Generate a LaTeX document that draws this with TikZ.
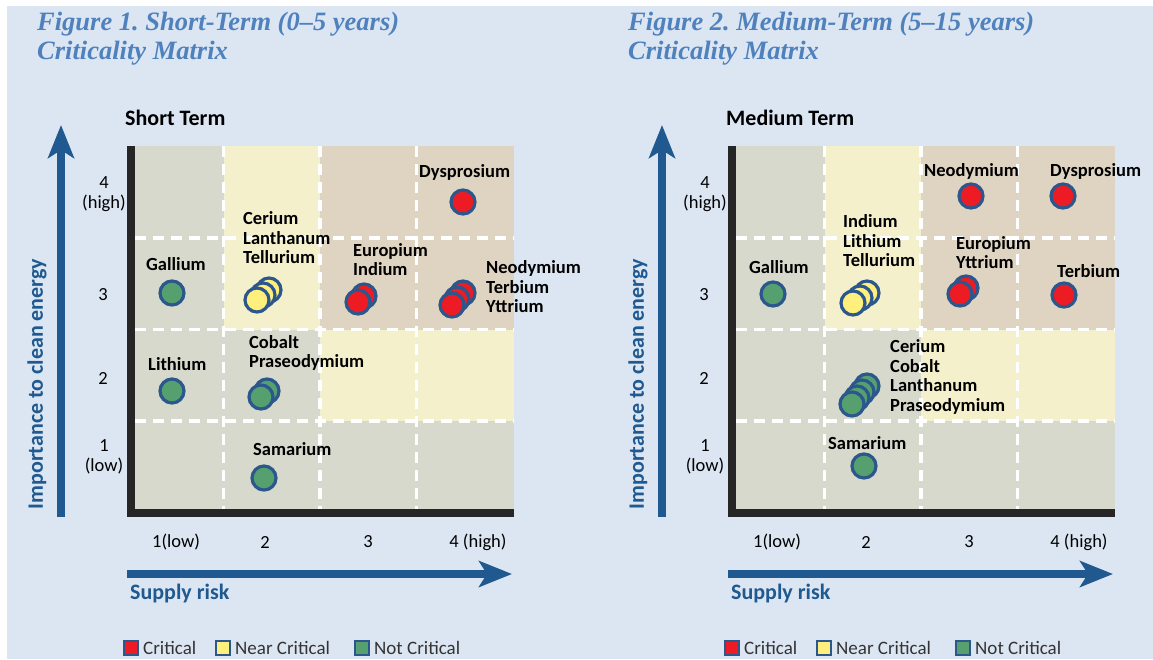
\documentclass[tikz,border=0pt]{standalone}
\usepackage{fontspec}
\setmainfont{Carlito}
\newfontfamily\titlefont{Liberation Serif}
\usepackage{tikz}
\usetikzlibrary{arrows.meta,positioning}
\definecolor{pageblue}{RGB}{220,230,243}
\definecolor{titleblue}{RGB}{79,129,189}
\definecolor{axisblue}{RGB}{31,89,143}
\definecolor{dotblue}{RGB}{43,87,140}
\definecolor{cellgray}{RGB}{215,217,204}
\definecolor{cellyellow}{RGB}{244,240,204}
\definecolor{celltan}{RGB}{223,212,193}
\definecolor{critred}{RGB}{237,28,36}
\definecolor{nearyellow}{RGB}{255,240,125}
\definecolor{notgreen}{RGB}{86,160,112}
\frenchspacing

\begin{document}
\begin{tikzpicture}[
    x=1pt, y=-1pt,
    >={Stealth[length=33pt,width=26pt,inset=8pt]},
    title/.style={
		font=\titlefont\bfseries\itshape\fontsize{26.5}{30}\selectfont,
		text=titleblue,
		anchor=base west,
		inner sep=0pt
	},
	heading/.style={
		font=\bfseries\fontsize{22}{26}\selectfont,
		anchor=west,
		inner sep=0pt
	},
	elem/.style={
		font=\bfseries\fontsize{18.5}{19.5}\selectfont,
		align=left,
		anchor=west,
		inner sep=0pt
	},
	tick/.style={
		font=\fontsize{18.5}{20}\selectfont,
		align=center,
		inner sep=0pt
	},
	axislabel/.style={
		font=\bfseries\fontsize{22}{26}\selectfont,
		text=axisblue,
		inner sep=0pt
	},
	dot/.style={
		circle,
		draw=dotblue,
		line width=3.2pt,
		minimum size=24pt,
		inner sep=0pt
	},
	critical/.style={dot, fill=critred},
	nearcrit/.style={dot, fill=nearyellow},
	notcrit/.style={dot, fill=notgreen},
	key/.style={
		rectangle,
		draw=dotblue,
		line width=2pt,
		minimum size=14pt,
		inner sep=0pt
	},
	keytext/.style={
		font=\fontsize{19}{22}\selectfont,
		text=black!80,
		inner sep=0pt
	},
	gridline/.style={white, line width=3.5pt, dash pattern=on 11pt off 7pt},
	axisbar/.style={black!85, line width=8.5pt},
	axisarrow/.style={->, axisblue, line width=8pt}
  ]

\useasboundingbox [fill=white] (0,0) rectangle (1153,659);
\fill [pageblue] (7,6) rectangle (1153,659);

% // Titles
\node [title] (title1a) at (37,30) {Figure 1. Short-Term (0–5 years)};
\node [title] (title1b) at (37,59) {Criticality Matrix};
\node [title] (title2a) at (628,30) {Figure 2. Medium-Term (5–15 years)};
\node [title] (title2b) at (628,59) {Criticality Matrix};

% ========================= Short term =========================
\node [heading] (st-head) at (125,118) {Short Term};

% cells
\fill [cellgray] (131,146) rectangle (514,513);
\fill [cellyellow] (223.5,146) rectangle (320,329.5);
\fill [celltan] (320,146) rectangle (514,329.5);
\fill [cellyellow] (320,329.5) rectangle (514,421);
\draw [gridline] (223.5,146) -- (223.5,509);
\draw [gridline] (320,146) -- (320,509);
\draw [gridline] (416.5,146) -- (416.5,509);
\draw [gridline] (135,238) -- (514,238);
\draw [gridline] (135,329.5) -- (514,329.5);
\draw [gridline] (135,421) -- (514,421);
\draw [axisbar] (131,146) -- (131,513) -- (514,513);

% axes
\coordinate (st-ybot) at (61,517);
\coordinate (st-ytop) at (61,125);
\coordinate (st-xleft) at (127,574);
\coordinate (st-xright) at (512,574);
\draw [axisarrow] (st-ybot) -- (st-ytop);
\draw [axisarrow] (st-xleft) -- (st-xright);
\node [axislabel, rotate=90] (st-ylab) at (37,384) {Importance to clean energy};
\node [axislabel, anchor=west] (st-xlab) at (130,594) {Supply risk};

\node [tick] (st-y4) at (104,194) {4\\(high)};
\node [tick] (st-y3) at (103,295) {3};
\node [tick] (st-y2) at (103,378) {2};
\node [tick] (st-y1) at (104,457) {1\\(low)};
\node [tick] (st-x1) at (176,542) {1(low)};
\node [tick] (st-x2) at (265,542) {2};
\node [tick] (st-x3) at (368,542) {3};
\node [tick] (st-x4) at (478,542) {4 (high)};

% elements
\node [notcrit] (st-gallium-dot) at (172,293) {};
\node [elem] (st-gallium) at (146,264) {Gallium};
\node [notcrit] (st-lithium-dot) at (172,391) {};
\node [elem] (st-lithium) at (148,364) {Lithium};

\node [nearcrit] (st-clt-3) at (269,290) {};
\node [nearcrit] (st-clt-2) at (263,295) {};
\node [nearcrit] (st-clt-1) at (257,300) {};
\node [elem] (st-clt) at (243,238) {Cerium\\Lanthanum\\Tellurium};

\node [critical] (st-ei-2) at (364,296) {};
\node [critical] (st-ei-1) at (358,302) {};
\node [elem] (st-ei) at (353,259.5) {Europium\\Indium};

\node [critical] (st-dys-dot) at (463,202) {};
\node [elem] (st-dys) at (419,172) {Dysprosium};

\node [critical] (st-nty-3) at (463,293) {};
\node [critical] (st-nty-2) at (457,299) {};
\node [critical] (st-nty-1) at (452,305) {};
\node [elem] (st-nty) at (486,287) {Neodymium\\Terbium\\Yttrium};

\node [notcrit] (st-cp-2) at (267,391) {};
\node [notcrit] (st-cp-1) at (261,397) {};
\node [elem] (st-cp) at (249,353) {Cobalt\\Praseodymium};

\node [notcrit] (st-sam-dot) at (264,478) {};
\node [elem] (st-sam) at (253,449) {Samarium};

% legend
\node [key, fill=critred] (st-key1) at (131,648) {};
\node [keytext, right=4pt of st-key1] (st-keytext1) {Critical};
\node [key, fill=nearyellow] (st-key2) at (223,648) {};
\node [keytext, right=4pt of st-key2] (st-keytext2) {Near Critical};
\node [key, fill=notgreen] (st-key3) at (362,648) {};
\node [keytext, right=4pt of st-key3] (st-keytext3) {Not Critical};

% ========================= Medium term =========================
\node [heading] (mt-head) at (726,118) {Medium Term};

% cells
\fill [cellgray] (732,146) rectangle (1115,513);
\fill [cellyellow] (824.5,146) rectangle (921,329.5);
\fill [celltan] (921,146) rectangle (1115,329.5);
\fill [cellyellow] (921,329.5) rectangle (1115,421);
\draw [gridline] (824.5,146) -- (824.5,509);
\draw [gridline] (921,146) -- (921,509);
\draw [gridline] (1017.5,146) -- (1017.5,509);
\draw [gridline] (736,238) -- (1115,238);
\draw [gridline] (736,329.5) -- (1115,329.5);
\draw [gridline] (736,421) -- (1115,421);
\draw [axisbar] (732,146) -- (732,513) -- (1115,513);

% axes
\coordinate (mt-ybot) at (662,517);
\coordinate (mt-ytop) at (662,125);
\coordinate (mt-xleft) at (728,574);
\coordinate (mt-xright) at (1113,574);
\draw [axisarrow] (mt-ybot) -- (mt-ytop);
\draw [axisarrow] (mt-xleft) -- (mt-xright);
\node [axislabel, rotate=90] (mt-ylab) at (638,384) {Importance to clean energy};
\node [axislabel, anchor=west] (mt-xlab) at (731,594) {Supply risk};

\node [tick] (mt-y4) at (705,194) {4\\(high)};
\node [tick] (mt-y3) at (704,295) {3};
\node [tick] (mt-y2) at (704,378) {2};
\node [tick] (mt-y1) at (705,457) {1\\(low)};
\node [tick] (mt-x1) at (777,542) {1(low)};
\node [tick] (mt-x2) at (866,542) {2};
\node [tick] (mt-x3) at (969,542) {3};
\node [tick] (mt-x4) at (1079,542) {4 (high)};

% elements
\node [notcrit] (mt-gallium-dot) at (773,294) {};
\node [elem] (mt-gallium) at (749,267) {Gallium};

\node [nearcrit] (mt-ilt-3) at (867,293) {};
\node [nearcrit] (mt-ilt-2) at (860,298) {};
\node [nearcrit] (mt-ilt-1) at (853,303) {};
\node [elem] (mt-ilt) at (843,241) {Indium\\Lithium\\Tellurium};

\node [critical] (mt-neo-dot) at (971,196) {};
\node [elem] (mt-neo) at (924,171) {Neodymium};
\node [critical] (mt-dys-dot) at (1063,196) {};
\node [elem] (mt-dys) at (1050,171) {Dysprosium};

\node [critical] (mt-ey-2) at (966,288) {};
\node [critical] (mt-ey-1) at (960,294) {};
\node [elem] (mt-ey) at (956,252.5) {Europium\\Yttrium};

\node [critical] (mt-ter-dot) at (1064,295) {};
\node [elem] (mt-ter) at (1057,271) {Terbium};

\node [notcrit] (mt-cclp-4) at (867,386) {};
\node [notcrit] (mt-cclp-3) at (862,392) {};
\node [notcrit] (mt-cclp-2) at (857,398) {};
\node [notcrit] (mt-cclp-1) at (852,404) {};
\node [elem] (mt-cclp) at (890,377) {Cerium\\Cobalt\\Lanthanum\\Praseodymium};

\node [notcrit] (mt-sam-dot) at (864,466) {};
\node [elem] (mt-sam) at (828,443) {Samarium};

% legend
\node [key, fill=critred] (mt-key1) at (732,648) {};
\node [keytext, right=4pt of mt-key1] (mt-keytext1) {Critical};
\node [key, fill=nearyellow] (mt-key2) at (824,648) {};
\node [keytext, right=4pt of mt-key2] (mt-keytext2) {Near Critical};
\node [key, fill=notgreen] (mt-key3) at (963,648) {};
\node [keytext, right=4pt of mt-key3] (mt-keytext3) {Not Critical};

\end{tikzpicture}
\end{document}
